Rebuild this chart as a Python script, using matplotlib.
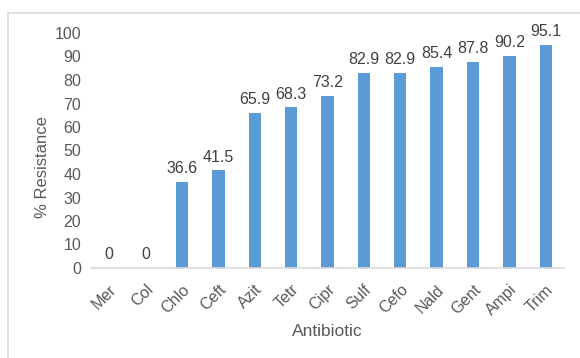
import matplotlib
matplotlib.use("Agg")
import matplotlib.pyplot as plt
from matplotlib.patches import Rectangle

antibiotics = ["Mer", "Col", "Chlo", "Ceft", "Azit", "Tetr", "Cipr",
               "Sulf", "Cefo", "Nald", "Gent", "Ampi", "Trim"]
resistance = [0, 0, 36.6, 41.5, 65.9, 68.3, 73.2, 82.9, 82.9, 85.4, 87.8, 90.2, 95.1]
y_ticks = list(range(0, 101, 10))

plt.rcParams['font.family'] = ['Liberation Sans', 'DejaVu Sans']

fig = plt.figure(figsize=(5.8, 3.58), dpi=100)
ax = fig.add_axes([91 / 580, 1 - 268 / 358, (564 - 91) / 580, (268 - 33) / 358])

# chart area frame (extends past the right and bottom edges)
fig.patches.append(Rectangle((8 / 580, -0.1), 1.2, 1 - 13 / 358 + 0.1,
                             transform=fig.transFigure, fill=False,
                             edgecolor="#D9D9D9", linewidth=1.2))

x = range(len(antibiotics))
bars = ax.bar(x, resistance, width=0.34, color="#5B9BD5")
for xi, v in zip(x, resistance):
    ax.text(xi, v + 2.5, f"{v:g}" if v == 0 else f"{v:.1f}", ha="center",
            va="bottom", fontsize=11.5, color="#404040")

ax.set_xlim(-0.5, len(antibiotics) - 0.5)
ax.set_ylim(0, 100)
ax.set_yticks(y_ticks)
ax.set_xticks(list(x))
ax.set_xticklabels(antibiotics, rotation=45, ha="right", va="top",
                   rotation_mode="anchor")
ax.tick_params(axis="both", length=0, colors="#595959", labelsize=11.5)
ax.tick_params(axis="y", pad=7)
ax.tick_params(axis="x", pad=10)
for s in ["top", "right", "left"]:
    ax.spines[s].set_visible(False)
ax.spines["bottom"].set_color("#D9D9D9")
ax.spines["bottom"].set_linewidth(1.2)

ax.set_ylabel("% Resistance", fontsize=12, color="#595959")
ax.yaxis.set_label_coords(-0.086, 0.43)
ax.set_xlabel("Antibiotic", fontsize=12.5, color="#595959", labelpad=4)

fig.savefig("out.png", dpi=100)
